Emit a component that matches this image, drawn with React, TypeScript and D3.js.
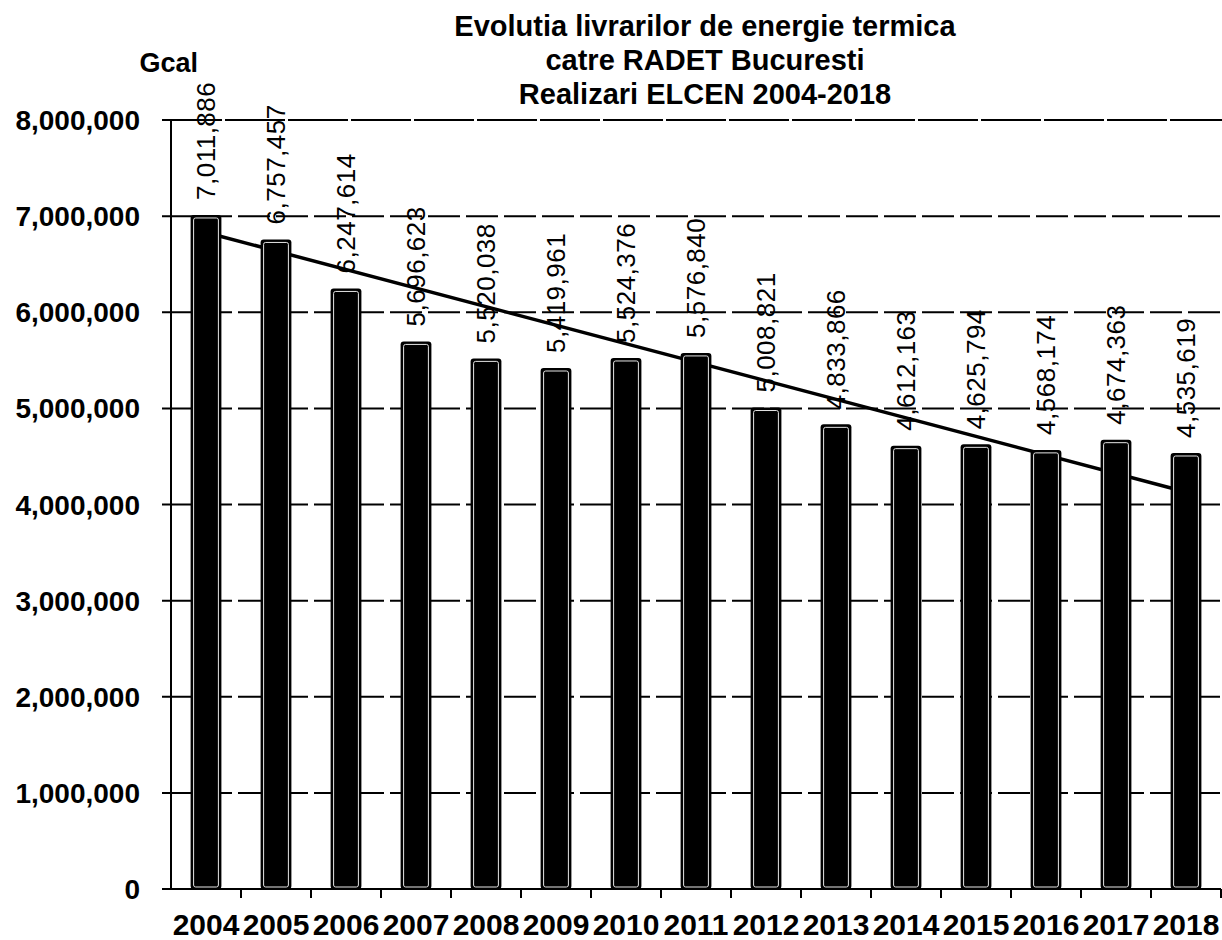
import * as d3 from "d3";

const years = ["2004", "2005", "2006", "2007", "2008", "2009", "2010", "2011", "2012", "2013", "2014", "2015", "2016", "2017", "2018"];
const deliveries = [7011886, 6757457, 6247614, 5696623, 5520038, 5419961, 5524376, 5576840, 5008821, 4833866, 4612163, 4625794, 4568174, 4674363, 4535619];
// trend line end values (first and last year)
const trendYears = ["2004", "2018"];
const trendValues = [6830000, 4130000];
const yTicks = [0, 1000000, 2000000, 3000000, 4000000, 5000000, 6000000, 7000000, 8000000];
const titleLines = ["Evolutia livrarilor de energie termica", "catre RADET Bucuresti", "Realizari ELCEN 2004-2018"];

const FONT = "'Liberation Sans', Arial, Helvetica, sans-serif";

export default function App() {
  const width = 1222;
  const height = 940;
  const left = 171;
  const right = 1221;
  const top = 120;
  const bottom = 889;

  const x = d3.scaleBand<string>().domain(years).range([left, right]).padding(0);
  const y = d3.scaleLinear().domain([0, 8000000]).range([bottom, top]);
  const fmt = d3.format(",");
  const barW = x.bandwidth() * 0.44;

  const trendLine = d3
    .line<number>()
    .x((_, i) => (x(trendYears[i]) ?? 0) + x.bandwidth() / 2)
    .y((d) => y(d));

  return (
    <div style={{ position: "absolute", left: 0, top: 0 }}>
      <svg width={width} height={height} style={{ display: "block", background: "#fff" }} fontFamily={FONT}>
        {/* title */}
        <text textAnchor="middle" fontWeight="bold" fontSize={29} fill="#000">
          {titleLines.map((t, i) => (
            <tspan key={t} x={705} y={36 + i * 34}>
              {t}
            </tspan>
          ))}
        </text>
        <text x={198} y={72} textAnchor="end" fontWeight="bold" fontSize={27}>
          Gcal
        </text>

        {/* gridlines + y ticks */}
        {yTicks.map((t) => (
          <g key={t}>
            {t > 0 && (
              <line
                x1={left - 9}
                x2={width}
                y1={y(t)}
                y2={y(t)}
                stroke="#000"
                strokeWidth={2}
                strokeDasharray={t === 8000000 ? "60 3" : "32 6"}
              />
            )}
            <text x={140} y={y(t)} dy="0.36em" textAnchor="end" fontWeight="bold" fontSize={28}>
              {fmt(t)}
            </text>
          </g>
        ))}

        {/* trend line (behind bars) */}
        <path d={trendLine(trendValues) ?? ""} fill="none" stroke="#000" strokeWidth={3.5} />

        {/* bars */}
        {years.map((yr, i) => {
          const cx = (x(yr) ?? 0) + x.bandwidth() / 2;
          const yTop = y(deliveries[i]);
          return (
            <g key={yr}>
              <rect x={cx - barW / 2} y={yTop} width={barW} height={bottom - yTop} fill="#000" rx={3} />
              <rect
                x={cx - barW / 2 + 3}
                y={yTop + 3}
                width={barW - 6}
                height={bottom - yTop - 5}
                fill="none"
                stroke="#e6e6e6"
                strokeWidth={1}
                rx={2}
              />
            </g>
          );
        })}

        {/* value labels */}
        {years.map((yr, i) => {
          const cx = (x(yr) ?? 0) + x.bandwidth() / 2;
          const ly = y(deliveries[i]) - 15;
          return (
            <text
              key={`lab-${yr}`}
              transform={`translate(${cx}, ${ly}) rotate(-90)`}
              dy="0.36em"
              fontSize={26}
              letterSpacing={0.5}
              textAnchor="start"
            >
              {fmt(deliveries[i])}
            </text>
          );
        })}

        {/* axes */}
        <line x1={left} x2={left} y1={top} y2={bottom} stroke="#000" strokeWidth={2} />
        <line x1={left - 9} x2={right} y1={bottom} y2={bottom} stroke="#000" strokeWidth={2} />
        {years.map((yr) => (
          <line
            key={`tick-${yr}`}
            x1={(x(yr) ?? 0) + x.bandwidth()}
            x2={(x(yr) ?? 0) + x.bandwidth()}
            y1={bottom}
            y2={bottom + 9}
            stroke="#000"
            strokeWidth={2}
          />
        ))}
        {years.map((yr) => (
          <text
            key={`yr-${yr}`}
            x={(x(yr) ?? 0) + x.bandwidth() / 2}
            y={935}
            textAnchor="middle"
            fontWeight="bold"
            fontSize={30}
          >
            {yr}
          </text>
        ))}
      </svg>
    </div>
  );
}
